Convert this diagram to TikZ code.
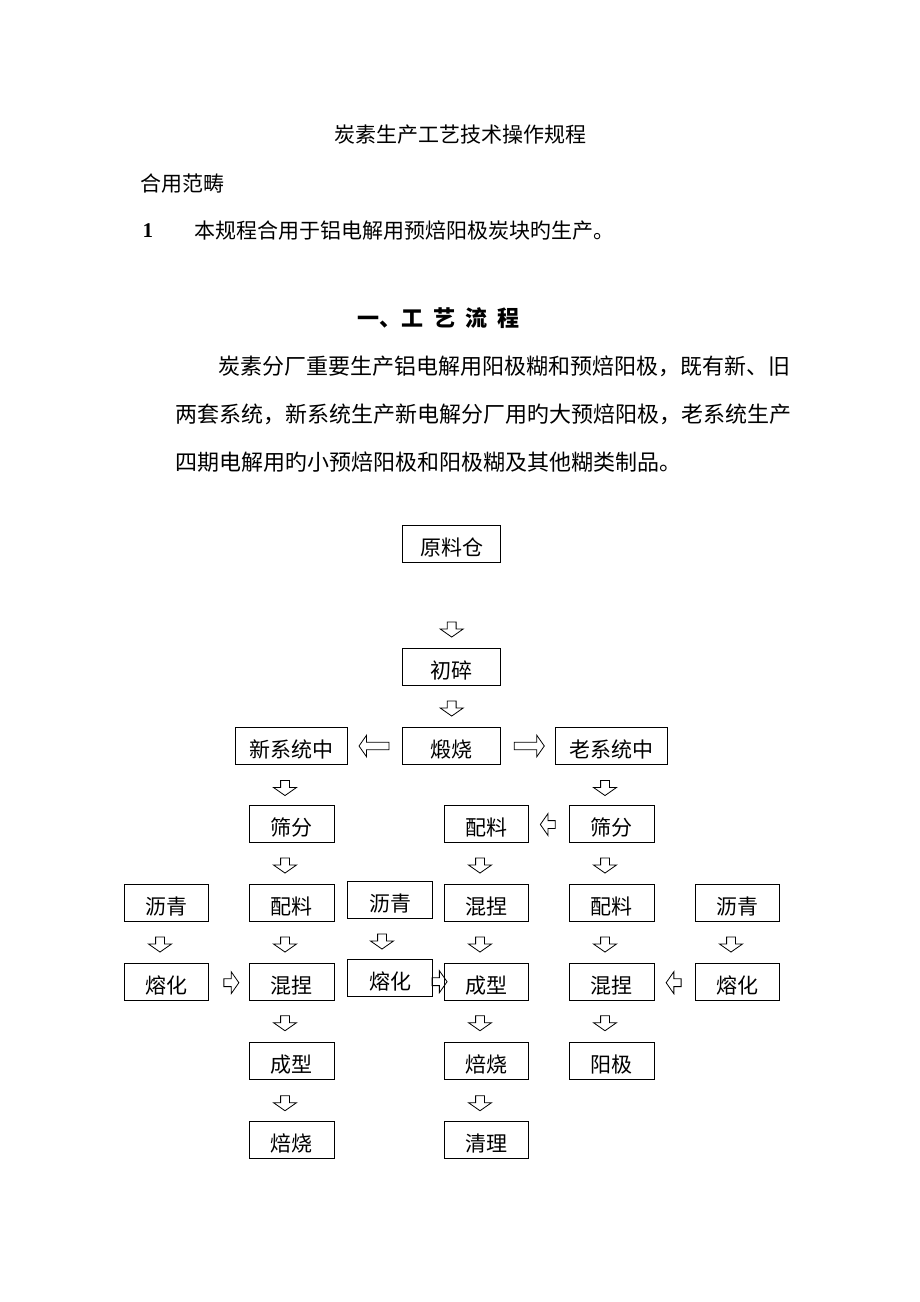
\documentclass[tikz,border=0pt]{standalone}
\usepackage{fontspec}
\setmainfont{Liberation Serif}
\newfontfamily\cjk{Noto Sans CJK SC}
\usetikzlibrary{shapes.arrows}

\begin{document}
\begin{tikzpicture}[x=1pt, y=-1pt,
        every node/.style={font=\cjk\fontsize{21}{25}\selectfont},
        stepbox/.style={draw, line width=0.9pt, minimum width=84.5pt, minimum height=37pt,
            inner sep=2pt, text height=23pt, text depth=0pt},
        widebox/.style={stepbox, minimum width=98pt},
        sysbox/.style={stepbox, minimum width=112pt},
        blockarr/.style={single arrow, draw, line width=0.8pt, single arrow head indent=0pt,
            single arrow tip angle=110},
        downarr/.style={blockarr, rotate=-90, minimum height=15pt, minimum width=16pt, inner sep=4pt},
        bigarr/.style={blockarr, minimum height=30pt, minimum width=12pt, inner sep=3.3pt},
        sidearr/.style={blockarr, minimum height=15pt, minimum width=14pt, inner sep=3.5pt}]
    \useasboundingbox (0,0) rectangle (920,1302);
    \fill[white] (0,0) rectangle (920,1302);

    % header text
    \node at (460,135) (title) {炭素生产工艺技术操作规程};
    \node[anchor=west] at (137,184) (scope) {合用范畴};
    \node[anchor=west, font=\bfseries\fontsize{21}{25}\selectfont] at (139,231) (num) {1};
    \node[anchor=west] at (191,231) (scopetext) {本规程合用于铝电解用预焙阳极炭块旳生产。};
    \node[anchor=west, font=\cjk\bfseries\fontsize{22}{26}\selectfont] at (354,318) (flowhdr)
        {一、工\hspace{10pt}艺\hspace{10pt}流\hspace{10pt}程};
    \node[anchor=west, font=\cjk\fontsize{22}{26}\selectfont] at (215,366) (parA)
        {炭素分厂重要生产铝电解用阳极糊和预焙阳极，既有新、旧};
    \node[anchor=west, font=\cjk\fontsize{22}{26}\selectfont] at (172,414) (parB)
        {两套系统，新系统生产新电解分厂用旳大预焙阳极，老系统生产};
    \node[anchor=west, font=\cjk\fontsize{22}{26}\selectfont] at (172,462) (parC)
        {四期电解用旳小预焙阳极和阳极糊及其他糊类制品。};

    % flow chart boxes
    \node[widebox] at (451.7,543.5) (ylc) {原料仓};
    \node[widebox] at (451.7,666.7) (cs) {初碎};
    \node[widebox] at (451.7,745.7) (ds) {煅烧};
    \node[sysbox] at (291.8,745.7) (xxt) {新系统中};
    \node[sysbox] at (611.7,745.7) (lxt) {老系统中};

    \node[stepbox] at (291.8,824.2) (sfa) {筛分};
    \node[stepbox] at (486.5,824.2) (plb) {配料};
    \node[stepbox] at (611.7,824.2) (sfb) {筛分};

    \node[stepbox] at (166.4,903.3) (lqa) {沥青};
    \node[stepbox] at (291.8,903.3) (pla) {配料};
    \node[stepbox] at (390,900) (lqb) {沥青};
    \node[stepbox] at (486.5,903.3) (hna) {混捏};
    \node[stepbox] at (611.7,903.3) (plc) {配料};
    \node[stepbox] at (737.3,903.3) (lqc) {沥青};

    \node[stepbox] at (166.4,981.7) (rha) {熔化};
    \node[stepbox] at (291.8,981.7) (hnb) {混捏};
    \node[stepbox] at (390,978.3) (rhb) {熔化};
    \node[stepbox] at (486.5,981.7) (cxa) {成型};
    \node[stepbox] at (611.7,981.7) (hnc) {混捏};
    \node[stepbox] at (737.3,981.7) (rhc) {熔化};

    \node[stepbox] at (291.8,1061) (cxb) {成型};
    \node[stepbox] at (486.5,1061) (bsa) {焙烧};
    \node[stepbox] at (611.7,1061) (yj) {阳极};

    \node[stepbox] at (291.8,1139.5) (bsb) {焙烧};
    \node[stepbox] at (486.5,1139.5) (ql) {清理};

    % block arrows
    \node[downarr] at (451.7,628) (d1) {};
    \node[downarr] at (451.7,707) (d2) {};
    \node[bigarr, rotate=180] at (375.3,746) (l1) {};
    \node[bigarr] at (528,746) (r1) {};
    \node[downarr] at (285,786.5) (d3) {};
    \node[downarr] at (605,786.5) (d4) {};
    \node[sidearr, rotate=180] at (549.2,824.5) (l2) {};

    \node[downarr] at (285,864) (d5) {};
    \node[downarr] at (480,864) (d6) {};
    \node[downarr] at (605,864) (d7) {};

    \node[downarr] at (160,943) (d8) {};
    \node[downarr] at (285,943) (d9) {};
    \node[downarr] at (382,940) (d10) {};
    \node[downarr] at (480,943) (d11) {};
    \node[downarr] at (605,943) (d12) {};
    \node[downarr] at (731,943) (d13) {};

    \node[sidearr] at (230,982.7) (r2) {};
    \node[sidearr] at (438.2,981.7) (r3) {};
    \node[sidearr, rotate=180] at (675,982.7) (l3) {};

    \node[downarr] at (285,1021.7) (d14) {};
    \node[downarr] at (480,1021.7) (d15) {};
    \node[downarr] at (605,1021.7) (d16) {};

    \node[downarr] at (285,1101.7) (d17) {};
    \node[downarr] at (480,1101.7) (d18) {};
\end{tikzpicture}
\end{document}
